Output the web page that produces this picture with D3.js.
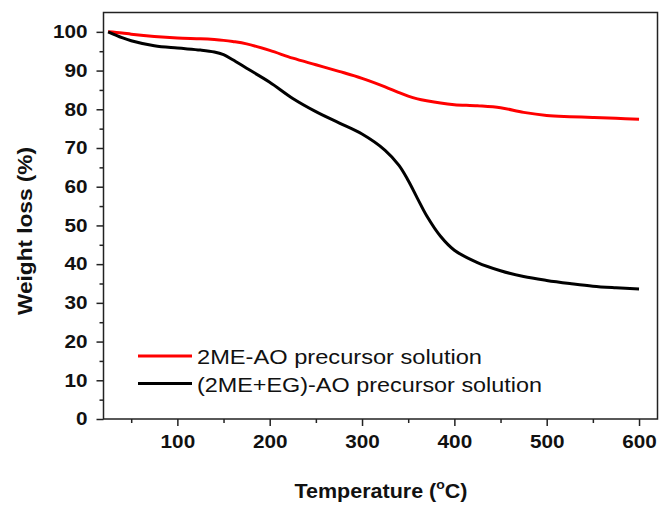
<!DOCTYPE html>
<head>
  <meta charset="utf-8">
  <script src="https://d3js.org/d3.v7.min.js"></script>
  <style>
    body { margin:0; background:#fff; }
    text { font-family: "Liberation Sans", Arial, sans-serif; }
  </style>
</head>
<body>
<script>
// TGA curves: temperature (C) vs weight (%)
const temps = [25, 40, 50, 75, 100, 125, 140, 150, 160, 175, 200, 225, 250, 275, 300, 325, 340, 350, 360, 370, 385, 400, 425, 450, 475, 500, 525, 550, 575, 600];
const me = [100, 99.7, 99.4, 98.8, 98.4, 98.2, 98.0, 97.8, 97.5, 96.9, 95.2, 93.2, 91.5, 89.8, 88.0, 85.8, 84.3, 83.4, 82.7, 82.2, 81.6, 81.2, 80.9, 80.4, 79.2, 78.4, 78.1, 77.9, 77.7, 77.4];
const meEg = [100, 98.5, 97.7, 96.4, 95.8, 95.3, 94.8, 94.1, 92.8, 90.6, 87.0, 82.8, 79.4, 76.5, 73.6, 69.4, 65.5, 61.6, 57.0, 52.5, 47.2, 43.6, 40.4, 38.3, 36.8, 35.8, 35.0, 34.3, 33.9, 33.6];
const seriesNames = ["2ME-AO precursor solution", "(2ME+EG)-AO precursor solution"];
const seriesColors = ["#ff0000", "#000000"];
const xTicks = [100, 200, 300, 400, 500, 600];
const yTicks = [0, 10, 20, 30, 40, 50, 60, 70, 80, 90, 100];

const W = 662, H = 507;
const m = {left: 103.5, right: 4.5, top: 12.5, bottom: 88};

const svg = d3.select("body").append("svg")
    .attr("width", W).attr("height", H);

const x = d3.scaleLinear().domain([20, 620]).range([m.left, W - m.right]);
const y = d3.scaleLinear().domain([0, 105]).range([H - m.bottom, m.top]);

// stretch text horizontally like the source image
function stretch(sel, k) {
  sel.each(function() {
    const w = this.getComputedTextLength();
    d3.select(this).attr("textLength", w * k).attr("lengthAdjust", "spacingAndGlyphs");
  });
}

// minor ticks
svg.append("g")
    .attr("transform", `translate(0,${H - m.bottom})`)
    .call(d3.axisBottom(x).tickValues([50, 150, 250, 350, 450, 550]).tickSize(4).tickFormat(""))
    .call(g => g.select(".domain").remove())
    .selectAll("line").attr("stroke", "#222").attr("stroke-width", 1.5);
svg.append("g")
    .attr("transform", `translate(${m.left},0)`)
    .call(d3.axisLeft(y).tickValues(d3.range(5, 105, 10)).tickSize(4).tickFormat(""))
    .call(g => g.select(".domain").remove())
    .selectAll("line").attr("stroke", "#222").attr("stroke-width", 1.5);

// major ticks + labels
const xa = svg.append("g")
    .attr("transform", `translate(0,${H - m.bottom})`)
    .call(d3.axisBottom(x).tickValues(xTicks).tickSize(7).tickPadding(9));
xa.select(".domain").remove();
xa.selectAll("line").attr("stroke", "#222").attr("stroke-width", 1.5);
xa.selectAll("text").attr("font-size", 18).attr("font-weight", "bold").attr("fill", "#111")
    .attr("font-family", "Liberation Sans, Arial, sans-serif").call(stretch, 1.15);

const ya = svg.append("g")
    .attr("transform", `translate(${m.left},0)`)
    .call(d3.axisLeft(y).tickValues(yTicks).tickSize(7).tickPadding(9));
ya.select(".domain").remove();
ya.selectAll("line").attr("stroke", "#222").attr("stroke-width", 1.5);
ya.selectAll("text").attr("font-size", 18).attr("font-weight", "bold").attr("fill", "#111")
    .attr("font-family", "Liberation Sans, Arial, sans-serif").call(stretch, 1.15);

// frame
svg.append("rect")
    .attr("x", m.left).attr("y", m.top)
    .attr("width", W - m.left - m.right).attr("height", H - m.top - m.bottom)
    .attr("fill", "none").attr("stroke", "#222").attr("stroke-width", 1.5);

// curves
const line = d3.line()
    .x((d, i) => x(temps[i]))
    .y(d => y(d))
    .curve(d3.curveCatmullRom.alpha(0.5));

[me, meEg].forEach((s, i) => {
  svg.append("path")
      .attr("d", line(s))
      .attr("fill", "none")
      .attr("stroke", seriesColors[i])
      .attr("stroke-width", 3)
      .attr("stroke-linejoin", "round");
});

// legend
const legTarget = [285, 345];
seriesNames.forEach((name, i) => {
  const ly = 356 + i * 27.5;
  svg.append("line")
      .attr("x1", 138).attr("x2", 192).attr("y1", ly).attr("y2", ly)
      .attr("stroke", seriesColors[i]).attr("stroke-width", 3);
  svg.append("text")
      .attr("x", 197).attr("y", ly + 8)
      .attr("font-size", 21).attr("fill", "#111")
      .attr("textLength", legTarget[i]).attr("lengthAdjust", "spacingAndGlyphs")
      .text(name);
});

// axis titles
const xt = svg.append("text")
    .attr("x", 381).attr("y", 498)
    .attr("text-anchor", "middle")
    .attr("font-size", 20).attr("font-weight", "bold").attr("fill", "#111");
xt.append("tspan").text("Temperature (");
xt.append("tspan").attr("font-size", 13).attr("dy", -9).text("o");
xt.append("tspan").attr("dy", 9).text("C)");
xt.attr("textLength", 173).attr("lengthAdjust", "spacingAndGlyphs");

svg.append("text")
    .attr("transform", "translate(32,231) rotate(-90)")
    .attr("text-anchor", "middle")
    .attr("font-size", 21).attr("font-weight", "bold").attr("fill", "#111")
    .attr("textLength", 168).attr("lengthAdjust", "spacingAndGlyphs")
    .text("Weight loss (%)");
</script>
</body>
